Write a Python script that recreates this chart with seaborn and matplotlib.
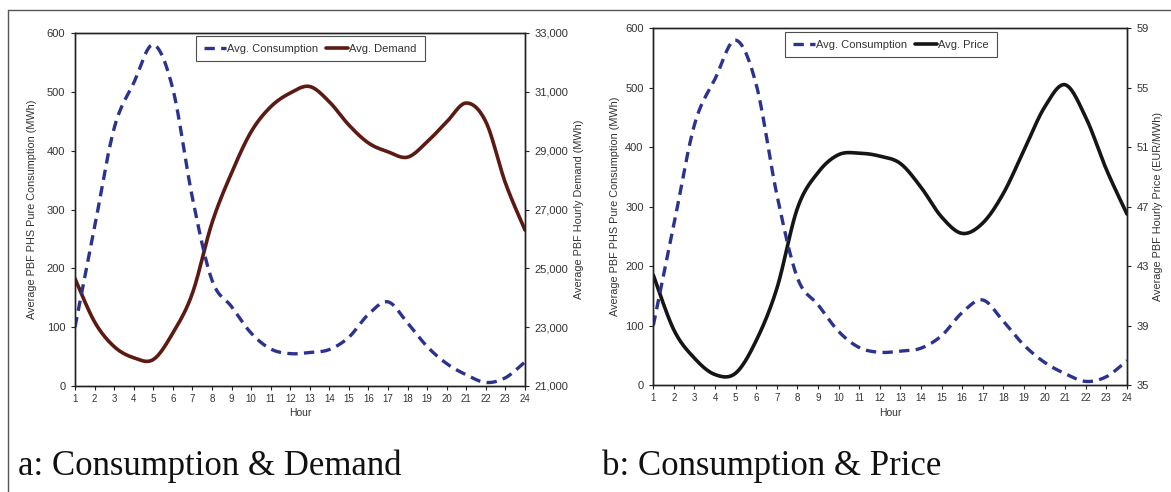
import numpy as np
import pandas as pd
import matplotlib
matplotlib.use("Agg")
import matplotlib.pyplot as plt
from matplotlib.lines import Line2D
from matplotlib.ticker import FuncFormatter
import seaborn as sns

hours = list(range(1, 25))
consumption = [100, 270, 438, 515, 580, 505, 320, 180, 135, 90, 63, 55,
               57, 62, 83, 122, 143, 107, 67, 38, 19, 6, 14, 41]
demand = [24650, 23180, 22340, 21960, 21900, 22800, 24150, 26540, 28240, 29640,
          30490, 30960, 31180, 30660, 29870, 29260, 28960, 28780, 29300, 29980,
          30620, 29980, 27900, 26300]
price = [42.4, 38.7, 36.8, 35.7, 35.8, 38.0, 41.5, 46.9, 49.3, 50.5, 50.6, 50.4,
         49.9, 48.3, 46.3, 45.2, 45.9, 47.9, 50.8, 53.7, 55.2, 53.0, 49.5, 46.5]
demand_ticks = [21000, 23000, 25000, 27000, 29000, 31000, 33000]
price_ticks = [35, 39, 43, 47, 51, 55, 59]
cons_ticks = [0, 100, 200, 300, 400, 500, 600]

sns.set_style("white")
plt.rcParams["font.family"] = ["Liberation Sans", "DejaVu Sans"]

BLUE = "#2b338f"
BROWN = "#5b1a12"
BLACK = "#151515"
TXT = "#333333"


def smooth(x, y, n=24):
    """Excel-like smoothed line (uniform Catmull-Rom Bezier) for display."""
    x = np.asarray(x, float)
    y = np.asarray(y, float)
    P = np.column_stack([x, y])
    out = []
    t = np.linspace(0, 1, n, endpoint=False)[:, None]
    for i in range(len(P) - 1):
        p0 = P[i - 1] if i > 0 else P[i]
        p1, p2 = P[i], P[i + 1]
        p3 = P[i + 2] if i + 2 < len(P) else P[i + 1]
        b1 = p1 + (p2 - p0) / 6
        b2 = p2 - (p3 - p1) / 6
        seg = ((1 - t) ** 3) * p1 + 3 * ((1 - t) ** 2) * t * b1 + 3 * (1 - t) * t ** 2 * b2 + t ** 3 * p2
        out.append(seg)
    out.append(P[-1][None, :])
    arr = np.vstack(out)
    return pd.DataFrame({"x": arr[:, 0], "y": arr[:, 1]})


W, H = 1171, 492
fig = plt.figure(figsize=(W / 100, H / 100), dpi=100)


def make_panel(rect, sec_vals, sec_ticks, sec_color, sec_label, sec_fmt,
               sec_name, ylabel_left_x, ylabel_right_x, legend_box):
    ax = fig.add_axes(rect)
    ax2 = ax.twinx()
    c = smooth(hours, consumption)
    s = smooth(hours, sec_vals)
    sns.lineplot(data=s, x="x", y="y", ax=ax2, color=sec_color, linewidth=2.6,
                 sort=False, estimator=None)
    sns.lineplot(data=c, x="x", y="y", ax=ax, color=BLUE, linewidth=2.4,
                 sort=False, estimator=None)
    ax.lines[-1].set_dashes((3.1, 1.9))
    ax.set_zorder(ax2.get_zorder() + 1)
    ax.patch.set_visible(False)

    ax.set_xlim(1, 24)
    ax.set_ylim(0, 600)
    ax2.set_ylim(sec_ticks[0], sec_ticks[-1])
    ax.set_xticks(hours)
    ax.set_yticks(cons_ticks)
    ax2.set_yticks(sec_ticks)
    ax2.yaxis.set_major_formatter(FuncFormatter(sec_fmt))
    for a in (ax, ax2):
        for sp in a.spines.values():
            sp.set_color("#222222")
            sp.set_linewidth(1.0)
    ax.tick_params(axis="x", direction="out", length=3, width=0.8, colors="#222222",
                   labelsize=7, labelcolor=TXT, pad=3, bottom=True)
    ax.tick_params(axis="y", direction="out", length=3, width=0.8, colors="#222222",
                   labelsize=8, labelcolor=TXT, pad=4, left=True)
    ax2.tick_params(axis="y", direction="out", length=3, width=0.8, colors="#222222",
                    labelsize=8, labelcolor=TXT, pad=4, right=True)
    ax.set_xlabel("Hour", fontsize=7.5, color=TXT, labelpad=3)
    ax.set_ylabel("Average PBF PHS Pure Consumption (MWh)", fontsize=7.8, color=TXT)
    ax2.set_ylabel(sec_label, fontsize=7.8, color=TXT)
    ax.yaxis.set_label_coords(ylabel_left_x, 0.5)
    ax2.yaxis.set_label_coords(ylabel_right_x, 0.5)
    handles = [Line2D([], [], color=BLUE, lw=2.4, dashes=(3.1, 1.9)),
               Line2D([], [], color=sec_color, lw=2.6)]
    leg = ax.legend(handles, ["Avg. Consumption", sec_name], ncol=2, fontsize=8,
                    loc="upper left", bbox_to_anchor=legend_box, frameon=True,
                    fancybox=False, handlelength=2.0, handletextpad=0.1,
                    columnspacing=0.7, borderpad=0.7, borderaxespad=0)
    leg.get_frame().set_edgecolor("#222222")
    leg.get_frame().set_linewidth(0.8)
    for t in leg.get_texts():
        t.set_color(TXT)
    return ax, ax2


# left panel: x 75..525, y 33..386
make_panel([75 / W, 1 - 386 / H, 450 / W, 353 / H], demand, demand_ticks, BROWN,
           "Average PBF Hourly Demand (MWh)",
           lambda v, p: f"{int(v):,}", "Avg. Demand",
           -0.084, 1.11, (0.269, 0.992))
# right panel: x 653..1127, y 28..385
make_panel([653.3 / W, 1 - 385 / H, 473.7 / W, 356.7 / H], price, price_ticks, BLACK,
           "Average PBF Hourly Price (EUR/MWh)",
           lambda v, p: f"{int(v)}", "Avg. Price",
           -0.070, 1.055, (0.278, 0.99))

# outer frame lines
fig.add_artist(Line2D([8 / W, 1.0], [1 - 10 / H, 1 - 10 / H], color="#555555", lw=1.0))
fig.add_artist(Line2D([8 / W, 8 / W], [0, 1 - 10 / H], color="#555555", lw=1.0))

cap_kw = dict(fontsize=25, family=["Liberation Serif", "DejaVu Serif"], color="#111111",
              va="baseline", ha="left")
fig.text(18 / W, 1 - 475 / H, "a: Consumption & Demand", **cap_kw)
fig.text(602 / W, 1 - 475 / H, "b: Consumption & Price", **cap_kw)

fig.savefig("out.png", dpi=100, facecolor="white")
